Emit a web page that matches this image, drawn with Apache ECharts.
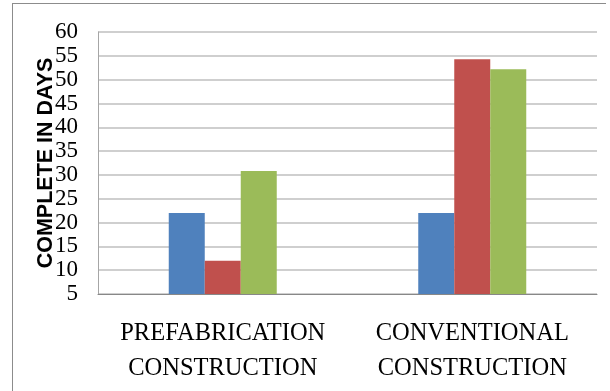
<!DOCTYPE html>
<html lang="en">
<head>
    <meta charset="UTF-8">
    <title>Completion time</title>
    <script src="https://cdn.jsdelivr.net/npm/echarts@6/dist/echarts.min.js"></script>
</head>
<body style="margin:0">
<div id="chart-container" style="width: 610px;height: 391px;"></div>
</body>
<script type="text/javascript">
    // data
    var categories = ['PREFABRICATION\nCONSTRUCTION', 'CONVENTIONAL\nCONSTRUCTION'];
    var seriesA = [22, 22];
    var seriesB = [12, 54.3];
    var seriesC = [30.8, 52.2];
    var yTicks = { min: 5, max: 60, step: 5 };

    var myChart = echarts.init(document.getElementById('chart-container'));

    var serif = '"Liberation Serif", "Times New Roman", serif';

    function bar(name, values, color) {
        return {
            name: name,
            type: 'bar',
            data: values,
            barWidth: 36,
            barGap: '0%',
            itemStyle: { color: color }
        };
    }

    var option = {
        animation: false,
        backgroundColor: '#fff',
        grid: { left: 98, right: 13, top: 32, bottom: 97 },
        graphic: [
            { type: 'line', shape: { x1: 12, y1: 3.5, x2: 606, y2: 3.5 }, style: { stroke: '#8c8c8c', lineWidth: 1 } },
            { type: 'line', shape: { x1: 12.5, y1: 3, x2: 12.5, y2: 391 }, style: { stroke: '#8c8c8c', lineWidth: 1 } }
        ],
        xAxis: {
            type: 'category',
            data: categories,
            axisTick: { show: false },
            axisLine: { lineStyle: { color: '#888', width: 1 } },
            axisLabel: {
                interval: 0,
                margin: 22,
                fontFamily: serif,
                fontSize: 24.5,
                lineHeight: 35,
                color: '#000'
            }
        },
        yAxis: {
            type: 'value',
            min: yTicks.min,
            max: yTicks.max,
            interval: yTicks.step,
            name: 'COMPLETE IN DAYS',
            nameLocation: 'middle',
            nameRotate: 90,
            nameGap: 41,
            nameMoveOverlap: false,
            nameTextStyle: {
                fontFamily: '"Liberation Sans", Arial, sans-serif',
                fontWeight: 'bold',
                fontSize: 21.5,
                color: '#000'
            },
            axisLine: { show: true, lineStyle: { color: '#a6a6a6' } },
            axisTick: { show: false },
            axisLabel: {
                margin: 20,
                fontFamily: serif,
                fontSize: 23,
                color: '#000'
            },
            splitLine: { lineStyle: { color: '#bfbfbf', width: 1.5 } }
        },
        series: [
            bar('Series 1', seriesA, '#4F81BD'),
            bar('Series 2', seriesB, '#C0504D'),
            bar('Series 3', seriesC, '#9BBB59')
        ]
    };

    myChart.setOption(option);
</script>
</html>
